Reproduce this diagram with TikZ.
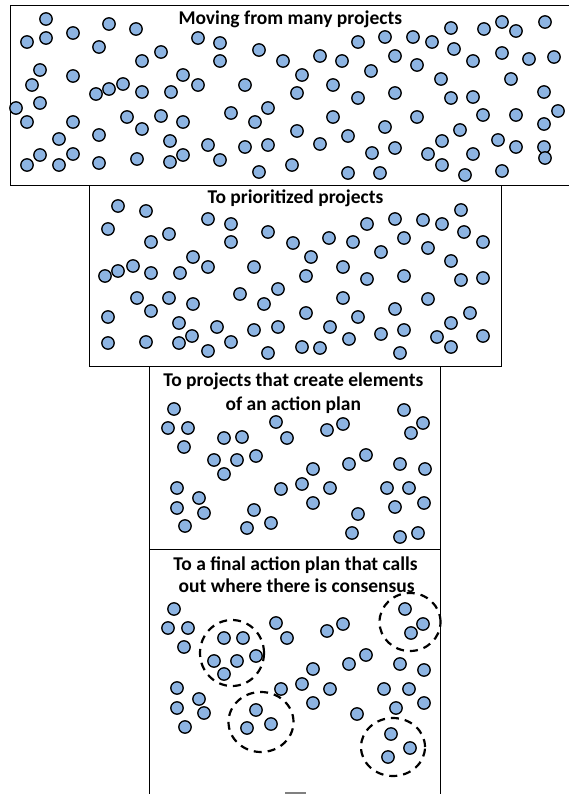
\documentclass[tikz,border=0pt]{standalone}
\usepackage{fontspec}
\setmainfont{Carlito}
\usepackage{tikz}
\definecolor{projblue}{RGB}{141,180,226}

\begin{document}
\begin{tikzpicture}[x=1pt, y=-1pt,
  proj/.style={draw=black, fill=projblue, line width=1.3pt},
  frame/.style={draw=black, line width=1pt},
  consensus/.style={draw=black, line width=2.2pt, dash pattern=on 8pt off 6pt},
  title/.style={anchor=base, inner sep=0pt, font=\fontsize{19.5}{23}\selectfont\bfseries}]
\useasboundingbox (0,0) rectangle (568,794);
% frames
\draw[frame] (10.7,5.3) rectangle (572,185.7);
\draw[frame] (89.7,185.7) rectangle (501,366.7);
\draw[frame] (149.7,366.7) rectangle (440,549.5);
\draw[frame] (149.7,800) -- (149.7,549.5) -- (440,549.5) -- (440,800);
\draw[gray, line width=1.5pt] (285,793) -- (306,793);

% many projects
\foreach \x/\y in {46/19, 27/42, 46/38, 73/33, 109/24, 136/29, 99/47, 198/38,
  220/43, 161/52, 142/61, 220/61, 259/50, 283/61, 40/70, 73/76, 32/85, 96/94,
  109/89, 123/84, 142/92, 171/92, 183/75, 198/85, 245/85, 16/108, 40/103,
  27/122, 73/122, 127/117, 142/129, 161/116, 183/122, 231/113, 268/108,
  255/122, 59/139, 99/135, 170/141, 208/145, 245/147, 268/145, 40/155, 73/154,
  27/165, 59/165, 99/163, 137/159, 170/162, 183/155, 220/160, 259/172,
  292/165, 297/93, 297/131, 358/42, 385/37, 413/37, 432/42, 451/28, 484/29,
  502/22, 516/31, 545/22, 320/56, 342/61, 395/56, 417/65, 454/49, 473/61,
  502/53, 529/59, 554/57, 302/75, 371/71, 441/79, 511/79, 333/85, 358/98,
  395/93, 451/98, 473/97, 544/92, 558/111, 333/117, 417/117, 483/115, 516/115,
  544/124, 320/144, 348/136, 385/127, 460/130, 442/141, 498/140, 516/147,
  544/147, 545/158, 372/153, 395/148, 428/154, 473/154, 348/173, 380/173,
  442/165, 465/175, 502/171}
  \draw[proj] (\x,\y) circle [radius=6.2pt];

% prioritized
\foreach \x/\y in {118/206, 146/211, 108/229, 208/219, 231/224, 169/234,
  151/242, 231/242, 268/232, 293/243, 193/257, 208/267, 254/267, 105/276,
  118/271, 133/266, 151/273, 180/273, 137/298, 169/298, 151/311, 193/304,
  240/294, 278/289, 264/304, 108/317, 179/323, 217/327, 254/330, 278/327,
  192/336, 108/343, 146/342, 179/343, 208/351, 231/342, 268/353, 302/347,
  461/210, 367/224, 395/219, 423/220, 442/224, 464/232, 329/238, 353/242,
  404/238, 428/248, 483/242, 381/252, 311/257, 451/261, 343/267, 306/276,
  367/279, 404/276, 461/280, 483/278, 343/298, 428/299, 306/313, 395/309,
  358/317, 470/313, 451/323, 330/327, 404/330, 381/334, 349/339, 437/337,
  483/336, 320/348, 400/353, 451/347}
  \draw[proj] (\x,\y) circle [radius=6.2pt];

% elements of a plan
\foreach \x/\y in {174/409, 168/428, 188/428, 184/447, 224/438, 242/437,
  276/422, 287/438, 327/430, 343/424, 404/410, 423/423, 411/433, 214/460,
  237/460, 256/456, 224/474, 313/469, 349/464, 366/455, 400/464, 425/469,
  177/488, 199/498, 177/508, 204/513, 185/526, 281/489, 302/484, 330/488,
  313/503, 387/488, 409/488, 395/507, 424/503, 254/510, 271/523, 247/528,
  358/514, 352/533, 400/537, 418/533}
  \draw[proj] (\x,\y) circle [radius=6.2pt];

% final plan
\foreach \x/\y in {174/609, 168/628, 188/628, 184/647, 224/638, 243/638,
  214/661, 237/661, 256/656, 224/674, 276/623, 287/638, 327/631, 343/624,
  405/609, 423/624, 411/633, 313/669, 349/664, 366/655, 400/664, 424/670,
  177/688, 199/699, 177/708, 204/713, 185/727, 281/689, 302/684, 330/689,
  313/703, 384/689, 409/689, 396/708, 424/703, 256/710, 271/724, 247/728,
  357/714, 391/734, 410/748, 388/757}
  \draw[proj] (\x,\y) circle [radius=6.2pt];

\draw[consensus] (232,653) ellipse [x radius=32pt, y radius=33pt];
\draw[consensus] (410,622) ellipse [x radius=30.5pt, y radius=29pt];
\draw[consensus] (261,722) ellipse [x radius=32.5pt, y radius=30pt];
\draw[consensus] (393,747) ellipse [x radius=32pt, y radius=29pt];

\node[title] (moving) at (290.3,25) {Moving from many projects};
\node[title] (prioritized) at (295.5,204) {To prioritized projects};
\node[title] (elements) at (293.3,386) {To projects that create elements};
\node[title] (actionplan) at (293.3,410) {of an action plan};
\node[title] (final) at (295.5,570) {To a final action plan that calls};
\node[title] (consensus) at (296.7,592.7) {out where there is consensus};
\end{tikzpicture}
\end{document}
